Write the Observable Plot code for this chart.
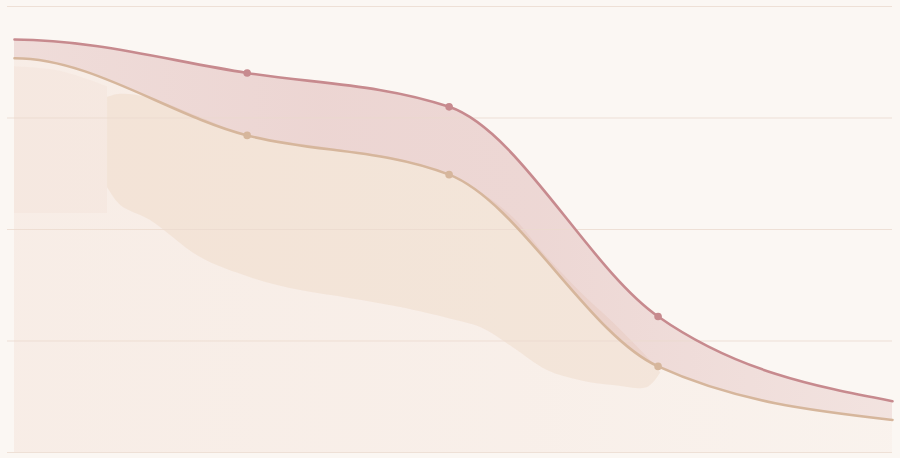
<!DOCTYPE html>
<html><head><meta charset="utf-8">
<script src="https://cdn.jsdelivr.net/npm/d3@7"></script>
<script src="https://cdn.jsdelivr.net/npm/@observablehq/plot@0.6"></script>
<style>html,body{margin:0;padding:0;background:#FBF7F3;}</style>
</head><body><div id="chart"></div>
<script>
// Series (x position along the period, values on a 0–100 scale)
const xs = [0, 26.5, 49.5, 73.3, 100];
const upper = [92.6, 85.1, 77.5, 30.5, 11.5];
const lower = [88.4, 71.1, 62.3, 19.3, 7.3];
const yTicks = [0, 25, 50, 75, 100];

// Watercolour wash
const washX = [10.6, 12.1, 15.5, 21.2, 26.9, 32.6, 38.3, 44.0, 49.5, 53.1, 56.8, 60.7, 64.5, 68.2, 72.1, 73.6];
const washTop = [79.6, 80.3, 79.4, 75.1, 70.6, 69.1, 67.5, 65.7, 61.9, 58.3, 52.7, 43.7, 35.9, 29.1, 21.3, 17.9];
const washBottom = [59.4, 55.4, 52.0, 43.7, 39.2, 36.3, 34.5, 32.5, 30.0, 28.0, 23.5, 18.4, 16.1, 15.0, 14.6, 17.9];
const edgeX = [0, 5.2, 10.6];
const edgeTop = [86.5, 85.5, 82.0];
const edgeBottom = [53.6, 53.6, 53.6];

const data = xs.map((x, i) => ({x, hi: upper[i], lo: lower[i], i}));
const wash = washX.map((x, i) => ({x, top: washTop[i], bottom: washBottom[i]}));
const edge = edgeX.map((x, i) => ({x, top: edgeTop[i], bottom: edgeBottom[i]}));

// monotone curve that leaves the left end horizontally
function flatStartMonotone(context) {
  let px, py, line;
  return {
    areaStart() { line = 0; },
    areaEnd() { line = NaN; },
    lineStart() { px = []; py = []; },
    point(x, y) {
      x = +x; y = +y;
      if (px.length && x === px[px.length - 1] && y === py[py.length - 1]) return;
      px.push(x); py.push(y);
    },
    lineEnd() {
      const n = px.length;
      if (n) {
        if (line) context.lineTo(px[0], py[0]); else context.moveTo(px[0], py[0]);
        if (n === 2) context.lineTo(px[1], py[1]);
        else if (n > 2) {
          const s = (i) => (py[i + 1] - py[i]) / (px[i + 1] - px[i]);
          const t = new Array(n).fill(0);
          for (let i = 1; i < n - 1; i++) {
            const h0 = px[i] - px[i - 1], h1 = px[i + 1] - px[i];
            const s0 = s(i - 1), s1 = s(i);
            const p = (s0 * h1 + s1 * h0) / (h0 + h1);
            t[i] = (Math.sign(s0) + Math.sign(s1)) * Math.min(Math.abs(s0), Math.abs(s1), 0.5 * Math.abs(p)) || 0;
          }
          if (px[0] < px[n - 1]) { t[0] = 0; t[n - 1] = (3 * s(n - 2) - t[n - 2]) / 2; }
          else { t[n - 1] = 0; t[0] = (3 * s(0) - t[1]) / 2; }
          for (let i = 0; i < n - 1; i++) {
            const dx = (px[i + 1] - px[i]) / 3;
            context.bezierCurveTo(px[i] + dx, py[i] + dx * t[i], px[i + 1] - dx, py[i + 1] - dx * t[i + 1], px[i + 1], py[i + 1]);
          }
        }
      }
      if (line || (line !== 0 && n === 1)) context.closePath();
      line = 1 - line;
    }
  };
}

const inner = (d) => d.i > 0 && d.i < xs.length - 1;

const chart = Plot.plot({
  width: 900, height: 458,
  marginLeft: 7, marginRight: 8, marginTop: 6, marginBottom: 6,
  style: {background: "#FBF7F3"},
  x: {domain: [0, 100], insetLeft: 7, axis: null},
  y: {domain: [0, 100], axis: null},
  marks: [
    Plot.areaY(data, {x: "x", y1: 0, y2: "lo", curve: flatStartMonotone, fill: "url(#baseGrad)"}),
    Plot.areaY(edge, {x: "x", y1: "bottom", y2: "top", curve: "catmull-rom", fill: "#E9C7B2", fillOpacity: 0.1}),
    Plot.areaY(wash, {x: "x", y1: "bottom", y2: "top", curve: "catmull-rom", fill: "#E6C3A8", fillOpacity: 0.24}),
    Plot.areaY(data, {x: "x", y1: "lo", y2: "hi", curve: flatStartMonotone, fill: "url(#bandGrad)"}),
    Plot.gridY(yTicks, {stroke: "#EBD9CE", strokeOpacity: 0.8, strokeWidth: 1}),
    Plot.line(data, {x: "x", y: "lo", curve: flatStartMonotone, stroke: "#D6B69C", strokeWidth: 2.6}),
    Plot.line(data, {x: "x", y: "hi", curve: flatStartMonotone, stroke: "#C78A8E", strokeWidth: 2.6}),
    Plot.dot(data, {filter: inner, x: "x", y: "lo", r: 3.8, fill: "#D6B69C", stroke: "none"}),
    Plot.dot(data, {filter: inner, x: "x", y: "hi", r: 3.8, fill: "#C78A8E", stroke: "none"})
  ]
});

const ns = "http://www.w3.org/2000/svg";
const defs = document.createElementNS(ns, "defs");
function grad(id, color, stops) {
  const g = document.createElementNS(ns, "linearGradient");
  g.setAttribute("id", id);
  g.setAttribute("x1", "0"); g.setAttribute("x2", "1");
  g.setAttribute("y1", "0"); g.setAttribute("y2", "0");
  for (const [off, op] of stops) {
    const s = document.createElementNS(ns, "stop");
    s.setAttribute("offset", off);
    s.setAttribute("stop-color", color);
    s.setAttribute("stop-opacity", op);
    g.appendChild(s);
  }
  defs.appendChild(g);
}
grad("bandGrad", "#D6A3A2", [[0, 0.32], [0.35, 0.4], [0.6, 0.38], [1, 0.24]]);
grad("baseGrad", "#EBC9B9", [[0, 0.22], [0.6, 0.17], [1, 0.1]]);
chart.insertBefore(defs, chart.firstChild);
document.getElementById("chart").appendChild(chart);
</script></body></html>
